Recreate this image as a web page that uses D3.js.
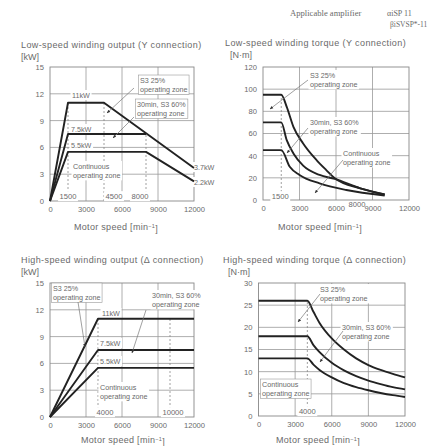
<!DOCTYPE html>
<html><head><meta charset="utf-8">
<script src="https://cdn.jsdelivr.net/npm/d3@7"></script>
<style>
body{margin:0;background:#fff}
svg{display:block}
text{font-family:"Liberation Sans",Arial,sans-serif;fill:#6a6a6a}
</style>
</head><body>
<svg id="c" width="439" height="446"></svg>
<script>
// ---------- data ----------
const speedTicks = [0, 3000, 6000, 9000, 12000];
const outputTicks = [0, 3, 6, 9, 12, 15];
const lowTorqueTicks = [0, 20, 40, 60, 80, 100, 120];
const highTorqueTicks = [0, 5, 10, 15, 20, 25, 30];

// low-speed winding output [kW] vs speed
const lowOutS3 = [[0, 0], [1500, 11], [4500, 11], [12000, 3.7]];
const lowOut30 = [[0, 0], [1500, 7.5], [8000, 7.5]];
const lowOutCont = [[0, 0], [1500, 5.5], [8000, 5.5], [12000, 2.2]];
const lowOutMarks = [1500, 4500, 8000];

// low-speed winding torque [N·m] vs speed
const lowTrqS3 = [[0, 95], [1500, 95], [1950, 84], [2500, 66], [3300, 51], [4400, 36], [5200, 27], [5900, 19.6], [8000, 10.5], [10000, 5]];
const lowTrq30 = [[0, 70], [1500, 70], [1950, 54], [2500, 42], [3300, 31], [4650, 22.6], [5900, 19], [8000, 10.5], [10000, 5]];
const lowTrqCont = [[0, 45], [1500, 45], [2200, 30], [3000, 22.6], [4650, 15], [6850, 9], [10000, 4]];
const lowTrqMarks = [1500];

// high-speed winding output [kW] vs speed
const highOutS3 = [[0, 0], [4000, 11], [12000, 11]];
const highOut30 = [[0, 0], [4000, 7.5], [12000, 7.5]];
const highOutCont = [[0, 0], [4000, 5.5], [12000, 5.5]];
const highOutMarks = [4000, 10000];

// high-speed winding torque [N·m] vs speed
const highTrqS3 = [[0, 26], [4000, 26], [4500, 23.5], [5000, 21], [6000, 17.5], [7000, 15], [8000, 13], [9000, 11.5], [10000, 10.4], [11000, 9.5], [12000, 8.7]];
const highTrq30 = [[0, 18], [4000, 18], [4500, 16], [5000, 14.4], [6000, 12], [7000, 10.3], [8000, 9], [9000, 8], [10000, 7.2], [11000, 6.5], [12000, 6]];
const highTrqCont = [[0, 13], [4000, 13], [4500, 11.6], [5000, 10.4], [6000, 8.7], [7000, 7.4], [8000, 6.5], [9000, 5.8], [10000, 5.2], [11000, 4.7], [12000, 4.3]];
const highTrqMarks = [4000];

// ---------- drawing ----------
const svg = d3.select("#c");
const defs = svg.append("defs");
defs.append("marker").attr("id", "ah").attr("viewBox", "0 0 10 10")
  .attr("refX", 9).attr("refY", 5).attr("markerWidth", 5).attr("markerHeight", 5)
  .attr("orient", "auto").append("path").attr("d", "M0,1L10,5L0,9z").attr("fill", "#333");

const ANN = 7.2, TICK = 7.6, TITLE = 9;

function addText(g, x, y, lines, opt = {}) {
  const t = g.append("text").attr("x", x).attr("y", y)
    .attr("text-anchor", opt.anchor || "start")
    .style("font-size", (opt.size || ANN) + "px");
  if (opt.family) t.style("font-family", opt.family);
  if (opt.ls) t.style("letter-spacing", opt.ls + "px");
  lines.forEach((l, i) => t.append("tspan").attr("x", x).attr("dy", i === 0 ? "0.35em" : "1.3em").text(l));
  if (opt.bg) {
    const b = t.node().getBBox();
    g.insert("rect", () => t.node()).attr("x", b.x - 1.5).attr("y", b.y - 0.5)
      .attr("width", b.width + 3).attr("height", b.height + 1).attr("fill", "#fff")
      .attr("stroke", opt.box ? "#999" : "none").attr("stroke-width", 0.6);
  }
  return t;
}

function leader(g, x1, y1, x2, y2) {
  g.append("line").attr("x1", x1).attr("y1", y1).attr("x2", x2).attr("y2", y2)
    .attr("stroke", "#777").attr("stroke-width", 0.7).attr("marker-end", "url(#ah)");
}

function panel(cfg) {
  const g = svg.append("g");
  const x = d3.scaleLinear().domain([0, 12000]).range([cfg.x0, cfg.x1]);
  const y = d3.scaleLinear().domain([0, cfg.yTicks[cfg.yTicks.length - 1]]).range([cfg.yB, cfg.yT]);

  // grid
  g.append("g").selectAll("line").data(cfg.yTicks.slice(1, -1)).join("line")
    .attr("x1", cfg.x0).attr("x2", cfg.x1).attr("y1", d => y(d)).attr("y2", d => y(d))
    .attr("stroke", "#999").attr("stroke-width", 0.8);
  g.append("g").selectAll("line").data(speedTicks.slice(1, -1)).join("line")
    .attr("y1", cfg.yT).attr("y2", cfg.yB).attr("x1", d => x(d)).attr("x2", d => x(d))
    .attr("stroke", "#999").attr("stroke-width", 0.8);
  g.append("rect").attr("x", cfg.x0).attr("y", cfg.yT).attr("width", cfg.x1 - cfg.x0)
    .attr("height", cfg.yB - cfg.yT).attr("fill", "none").attr("stroke", "#888").attr("stroke-width", 0.9);

  // axes
  const ax = g.append("g").attr("transform", `translate(0,${cfg.yB + 8})`)
    .call(d3.axisBottom(x).tickValues(speedTicks).tickSize(0).tickPadding(0).tickFormat(d3.format("d")));
  ax.select(".domain").remove();
  ax.selectAll("text").style("font-size", TICK + "px").style("fill", "#6a6a6a").attr("dy", "0.35em").attr("y", 0);
  const ay = g.append("g").attr("transform", `translate(${cfg.x0 - 6},0)`)
    .call(d3.axisLeft(y).tickValues(cfg.yTicks).tickSize(0).tickPadding(0));
  ay.select(".domain").remove();
  ay.selectAll("text").style("font-size", TICK + "px").style("fill", "#6a6a6a");

  // dashed speed markers
  cfg.marks.forEach((m, i) => {
    g.append("line").attr("x1", x(m)).attr("x2", x(m)).attr("y1", cfg.yB)
      .attr("y2", y(cfg.markTop[i])).attr("stroke", "#888").attr("stroke-width", 0.8)
      .attr("stroke-dasharray", "2,2");
  });

  // labels (behind curves)
  cfg.labels.forEach(l => addText(g, l[0], l[1], l[2], {bg: true, box: l[3]}));
  cfg.marks.forEach((m, i) => addText(g, x(m) + cfg.markDx[i], cfg.markY[i], [String(m)], {anchor: "middle", bg: true, size: TICK}));

  // curves
  const line = d3.line().x(d => x(d[0])).y(d => y(d[1])).curve(cfg.curve || d3.curveLinear);
  cfg.series.forEach(s => g.append("path").attr("d", line(s)).attr("fill", "none")
    .attr("stroke", "#222").attr("stroke-width", 1.9).attr("stroke-linejoin", "round"));

  // leaders
  cfg.leaders.forEach(l => leader(g, ...l));

  // titles
  addText(g, cfg.tx, cfg.ty, [cfg.title], {size: TITLE, ls: 0.4});
  addText(g, cfg.ux, cfg.ty + 12, [cfg.unit], {size: TITLE});
  const xt = g.append("text").attr("x", cfg.xtX).attr("y", cfg.xtY).attr("dy", "0.35em")
    .attr("text-anchor", "middle").style("font-size", TITLE + "px").style("letter-spacing", "0.3px").text("Motor speed [min");
  xt.append("tspan").attr("dy", "-0.4em").style("font-size", "5.5px").text("−1");
  xt.append("tspan").attr("dy", "0.4em").text("]");
  return g;
}

// top-left: low-speed output
panel({
  x0: 50, x1: 194, yT: 67, yB: 201, yTicks: outputTicks,
  series: [lowOutS3, lowOut30, lowOutCont],
  marks: lowOutMarks, markTop: [11, 11, 7.5], markDx: [0, 10, -6], markY: [196, 196, 196],
  labels: [
    [140, 80, ["S3 25%", "operating zone"], true],
    [137, 104, ["30min, S3 60%", "operating zone"], true],
    [72, 95, ["11kW"]], [71, 129, ["7.5kW"]], [71, 145, ["5.5kW"]],
    [73, 166, ["Continuous", "operating zone"]],
    [194, 167, ["3.7kW"]], [194, 182, ["2.2kW"]]
  ],
  leaders: [[134, 88, 107, 113], [134, 117, 113, 138]],
  title: "Low-speed winding output (Y connection)", unit: "[kW]",
  tx: 21, ty: 45, ux: 21, xtX: 116, xtY: 227
});

// top-right: low-speed torque
panel({
  x0: 263, x1: 409, yT: 67, yB: 200, yTicks: lowTorqueTicks,
  series: [lowTrqS3, lowTrq30, lowTrqCont], curve: d3.curveMonotoneX,
  marks: lowTrqMarks, markTop: [95], markDx: [-1], markY: [196],
  labels: [
    [310, 75, ["S3 25%", "operating zone"]],
    [310, 122, ["30min, S3 60%", "operating zone"]],
    [343, 153, ["Continuous", "operating zone"]]
  ],
  leaders: [[308, 80, 270, 109], [308, 128, 287, 153], [343, 160, 315, 193]],
  title: "Low-speed winding torque (Y connection)", unit: "[N·m]",
  tx: 225, ty: 43, ux: 230, xtX: 320, xtY: 227
});
addText(svg, 357, 204, ["8000"], {anchor: "middle", size: TICK});

// bottom-left: high-speed output
panel({
  x0: 50, x1: 194, yT: 283, yB: 417, yTicks: outputTicks,
  series: [highOutS3, highOut30, highOutCont],
  marks: highOutMarks, markTop: [11, 11], markDx: [7, 3], markY: [412, 412],
  labels: [
    [53, 288, ["S3 25%", "operating zone"], true],
    [152, 295, ["30min, S3 60%", "operating zone"]],
    [102, 313, ["11kW"]], [100, 343, ["7.5kW"]], [100, 361, ["5.5kW"]],
    [100, 387, ["Continuous", "operating zone"]]
  ],
  leaders: [[78, 302, 85, 347], [146, 310, 132, 353]],
  title: "High-speed winding output (Δ connection)", unit: "[kW]",
  tx: 21, ty: 260, ux: 21, xtX: 123, xtY: 440
});

// bottom-right: high-speed torque
panel({
  x0: 258.5, x1: 405, yT: 283, yB: 416, yTicks: highTorqueTicks,
  series: [highTrqS3, highTrq30, highTrqCont], curve: d3.curveMonotoneX,
  marks: highTrqMarks, markTop: [26], markDx: [0], markY: [411],
  labels: [
    [320, 289, ["S3 25%", "operating zone"]],
    [342, 327, ["30min, S3 60%", "operating zone"]],
    [262, 384, ["Continuous", "operating zone"], true]
  ],
  leaders: [[320, 294, 298, 322], [343, 331, 320, 362]],
  title: "High-speed winding torque (Δ connection)", unit: "[N·m]",
  tx: 223, ty: 260, ux: 228, xtX: 318, xtY: 440
});

// amplifier note
addText(svg, 290, 13, ["Applicable amplifier"], {size: 8.6, family: "Liberation Serif"});
addText(svg, 387, 13, ["αiSP 11"], {size: 8, family: "Liberation Serif"});
addText(svg, 390, 24, ["βiSVSP*-11"], {size: 7.5, family: "Liberation Serif"});
</script>
</body></html>
